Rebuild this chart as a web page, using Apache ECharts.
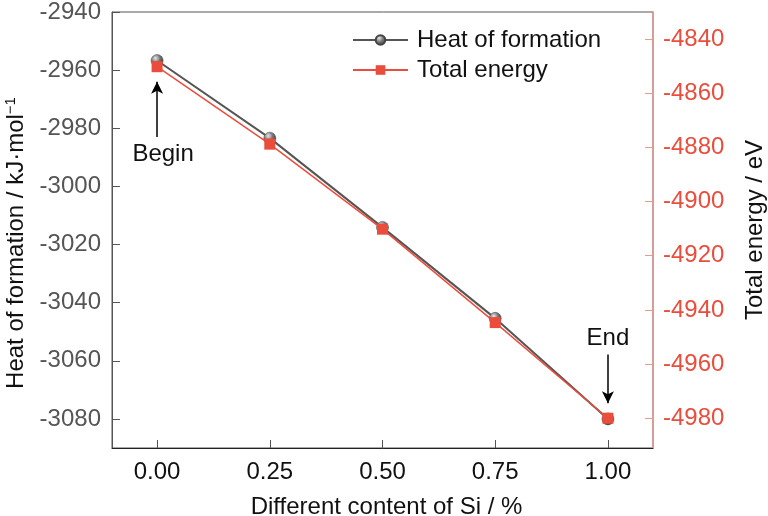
<!DOCTYPE html>
<html>
<head>
<meta charset="utf-8">
<script src="https://cdn.jsdelivr.net/npm/echarts@6/dist/echarts.min.js"></script>
<style>
html, body { margin: 0; padding: 0; background: #fff; }
#chart { width: 768px; height: 516px; }
</style>
</head>
<body>
<div id="chart"></div>
<script>
// Si content (x) and the two curves
var siContent = [0, 0.25, 0.5, 0.75, 1.0];
var heatOfFormation = [-2956.7, -2983.4, -3014.1, -3045.4, -3080];
var totalEnergy = [-4850.2, -4878.8, -4910.2, -4944.7, -4980];

var xTicks = [0, 0.25, 0.5, 0.75, 1.0];
var leftTicks = [-3080, -3060, -3040, -3020, -3000, -2980, -2960, -2940];
var rightTicks = [-4980, -4960, -4940, -4920, -4900, -4880, -4860, -4840];

// arrows: [x, from, to]
var beginArrow = [0, -2983, -2964];
var endArrow = [1, -4956.5, -4974.5];

var FONT = 'Liberation Sans';
var FS = 24;
var GREY = '#555555';
var RED = '#ea4d3b';
var RED_AXIS = '#e79a90';

function pairs(xs, ys) {
	var out = [];
	for (var i = 0; i < xs.length; i++) out.push([xs[i], ys[i]]);
	return out;
}
function plain(v) { return String(v); }

var sphere = {
	type: 'radial', x: 0.38, y: 0.32, r: 0.75,
	colorStops: [
		{offset: 0, color: '#e8e8e8'},
		{offset: 0.45, color: '#7a7a7a'},
		{offset: 1, color: '#2e2e2e'}
	]
};

var option = {
	animation: false,
	grid: {left: 112, right: 115, top: 12, bottom: 68, outerBoundsMode: 'none', containLabel: false,
		show: true, borderColor: GREY, borderWidth: 1},
	legend: {
		orient: 'vertical',
		left: 347, top: 23,
		itemWidth: 55, itemHeight: 12, itemGap: 6,
		textStyle: {fontFamily: FONT, fontSize: FS, color: '#111', padding: [0, 0, 0, 4]},
		data: ['Heat of formation', 'Total energy']
	},
	xAxis: {
		type: 'value', min: -0.1, max: 1.1,
		name: 'Different content of Si / %', nameLocation: 'middle', nameGap: 47,
		nameTextStyle: {fontFamily: FONT, fontSize: FS, color: '#111', padding: [0, 0, 0, 8]},
		axisLine: {onZero: false, lineStyle: {color: '#222', width: 1}},
		axisTick: {inside: true, length: 8, customValues: xTicks, lineStyle: {color: GREY}},
		axisLabel: {customValues: xTicks, margin: 12, fontFamily: FONT, fontSize: FS, color: '#111',
			formatter: function (v) { return v.toFixed(2); }},
		splitLine: {show: false}
	},
	yAxis: [
		{
			type: 'value', min: -3090, max: -2940, position: 'left',
			name: 'Heat of formation / kJ·mol{sup|−1}', nameLocation: 'middle', nameGap: 78, nameRotate: 90,
			nameTextStyle: {fontFamily: FONT, fontSize: FS, color: '#111', padding: [0, 26, 0, 0],
				rich: {sup: {fontFamily: FONT, fontSize: 15, color: '#111', verticalAlign: 'top', padding: [0, 0, 11, 0]}}},
			axisLine: {show: true, onZero: false, lineStyle: {color: GREY, width: 1}},
			axisTick: {inside: true, length: 8, customValues: leftTicks, lineStyle: {color: GREY}},
			axisLabel: {customValues: leftTicks, margin: 11, fontFamily: FONT, fontSize: FS, color: GREY, formatter: plain},
			splitLine: {show: false}
		},
		{
			type: 'value', min: -4991, max: -4830, position: 'right',
			name: 'Total energy / eV', nameLocation: 'middle', nameGap: 90, nameRotate: 90,
			nameTextStyle: {fontFamily: FONT, fontSize: FS, color: '#111'},
			axisLine: {show: true, onZero: false, lineStyle: {color: RED_AXIS, width: 1.5}},
			axisTick: {inside: true, length: 8, customValues: rightTicks, lineStyle: {color: RED_AXIS}},
			axisLabel: {customValues: rightTicks, margin: 10, fontFamily: FONT, fontSize: FS, color: RED, formatter: plain},
			splitLine: {show: false}
		}
	],
	series: [
		{
			name: 'Heat of formation',
			type: 'line', yAxisIndex: 0,
			data: pairs(siContent, heatOfFormation),
			symbol: 'circle', symbolSize: 12,
			itemStyle: {color: sphere, borderColor: '#444', borderWidth: 0.5},
			lineStyle: {color: GREY, width: 2},
			z: 2,
			markLine: {
				silent: true, animation: false,
				symbol: ['none', 'arrow'], symbolSize: [9, 12],
				lineStyle: {color: '#000', width: 1.5, type: 'solid'},
				label: {show: true, position: 'start', distance: 5, formatter: 'Begin',
					fontFamily: FONT, fontSize: FS, color: '#111', offset: [6, 0]},
				data: [[{coord: [beginArrow[0], beginArrow[1]]}, {coord: [beginArrow[0], beginArrow[2]]}]]
			}
		},
		{
			name: 'Total energy',
			type: 'line', yAxisIndex: 1,
			data: pairs(siContent, totalEnergy),
			symbol: 'rect', symbolSize: 11,
			itemStyle: {color: RED},
			lineStyle: {color: RED, width: 1.5},
			z: 3,
			markLine: {
				silent: true, animation: false,
				symbol: ['none', 'arrow'], symbolSize: [9, 12],
				lineStyle: {color: '#000', width: 1.5, type: 'solid'},
				label: {show: true, position: 'start', distance: 4, formatter: 'End',
					fontFamily: FONT, fontSize: FS, color: '#111'},
				data: [[{coord: [endArrow[0], endArrow[1]]}, {coord: [endArrow[0], endArrow[2]]}]]
			}
		}
	]
};

var chart = echarts.init(document.getElementById('chart'));
chart.setOption(option);
</script>
</body>
</html>
